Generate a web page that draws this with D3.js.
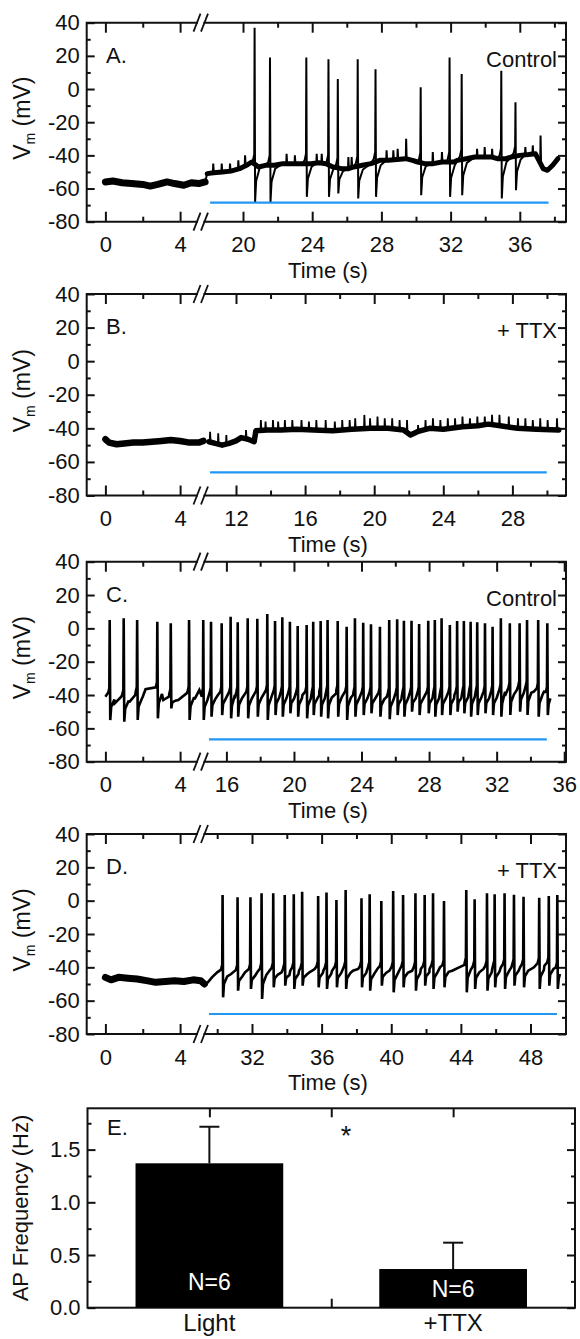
<!DOCTYPE html>
<html><head><meta charset="utf-8">
<script src="https://cdn.jsdelivr.net/npm/d3@7/dist/d3.min.js"></script>
<style>
body{margin:0;background:#fff;}
svg{color:#111;}
text{font-family:"Liberation Sans", Arial, Helvetica, sans-serif; fill:#111;}
</style></head><body>
<svg id="chart" width="580" height="1339"></svg>
<script>
// ---------------- DATA ----------------
const yTicks = [-80, -60, -40, -20, 0, 20, 40];
const yMinorTicks = [-70, -50, -30, -10, 10, 30];
const preTicks = [0, 4];
const preMinorTicks = [2];
const postTicksA = [20, 24, 28, 32, 36];
const postTicksB = [12, 16, 20, 24, 28];
const postTicksC = [16, 20, 24, 28, 32, 36];
const postTicksD = [32, 36, 40, 44, 48];

// Panel A (Control) : baseline [t, mV], spikes [t, peak, trough], small blips [t, peak]
const basePreA = [[0,-56],[0.4,-55.5],[0.9,-56.5],[1.4,-57],[2,-57.5],[2.4,-58.5],[2.8,-57.5],[3.3,-56],[3.7,-57],[4.2,-58],[4.6,-56.5],[5.0,-57],[5.34,-56]];
const basePostA = [[17.93,-51],[18.3,-50.5],[18.8,-50],[19.3,-49.5],[19.8,-48],[20.2,-46],[20.5,-44],[20.9,-47],[21.3,-46],[21.8,-46],[22.3,-45],[22.9,-45],[23.4,-45],[23.9,-45],[24.4,-44.5],[24.8,-45],[25.2,-47],[25.7,-48],[26.1,-48],[26.4,-47],[26.9,-46],[27.4,-45],[27.9,-43],[28.4,-43],[28.9,-42.5],[29.4,-42],[29.8,-43],[30.1,-44],[30.5,-45],[31.0,-45],[31.5,-44],[31.8,-44],[32.2,-44],[32.4,-43],[32.9,-42],[33.4,-41],[33.9,-41],[34.4,-41],[34.7,-42],[35.2,-42],[35.5,-41],[36.0,-40],[36.5,-39.5],[36.9,-39],[37.35,-48],[37.6,-49],[37.9,-46],[38.2,-42]];
const spikesA = [[20.67,37,-68],[21.56,19,-68],[23.66,19,-65],[24.94,18,-65],[25.48,6,-63],[26.63,18,-66],[27.66,12,-65],[30.27,1,-64],[31.94,19,-65],[32.64,9,-64],[34.93,11,-66],[35.75,-8,-61]];
const blipsA = [[18.28,-45],[18.77,-45],[19.25,-45],[19.73,-43],[20.12,-40],[22.52,-39],[23.0,-40],[24.26,-39],[24.55,-39],[26.09,-41],[26.28,-41],[28.3,-37],[28.69,-37],[28.94,-36],[29.43,-30],[30.97,-38],[31.5,-38],[33.53,-36],[33.97,-35],[34.4,-36],[36.32,-35],[36.75,-34],[37.2,-28]];
const stimA = [18.1, 37.66, -68.5];

// Panel B (+TTX)
const basePreB = [[0,-46.5],[0.2,-48.5],[0.6,-49.5],[1.0,-49],[1.5,-48.5],[2.0,-48.5],[2.5,-48],[3.0,-47.5],[3.5,-47],[4.0,-47.5],[4.5,-48.5],[5.0,-48.5],[5.25,-47.5]];
const basePostB = [[10.44,-48],[10.8,-49],[11.2,-50],[11.6,-49],[12.0,-47.5],[12.3,-45.5],[12.7,-46.5],[13.05,-48],[13.15,-41.5],[13.8,-41],[14.6,-41],[15.5,-40.5],[16.5,-41],[17.6,-41.5],[18.7,-40.5],[19.8,-40],[20.8,-40],[21.7,-41],[22.1,-44],[22.5,-42],[23.2,-40],[24.0,-40.5],[25.1,-39],[26.0,-38.5],[26.6,-37.5],[27.3,-38.5],[28.3,-40],[29.4,-40.5],[30.68,-41]];
const spikesB = [];
const blipsB = [[10.5,-42],[10.97,-43],[11.44,-44],[12.58,-41],[13.44,-35],[13.71,-36],[14.14,-35],[14.44,-36],[14.83,-35],[15.26,-35],[15.79,-35],[16.22,-36],[16.65,-35],[17.19,-35],[17.72,-36],[18.15,-35],[18.58,-35],[18.9,-34],[19.43,-32],[19.76,-34],[20.19,-33],[20.61,-34],[21.04,-34],[21.47,-35],[21.9,-35],[22.54,-38],[22.97,-35],[23.4,-34],[23.83,-35],[24.26,-34],[24.68,-34],[25.11,-33],[25.54,-34],[25.97,-33],[26.4,-33],[26.82,-32],[27.25,-32],[27.79,-33],[28.32,-34],[28.75,-34],[29.18,-35],[29.61,-34],[30.04,-35],[30.58,-34]];
const stimB = [10.5, 29.99, -66.2];

// Panel C (Control)
const basePreC = [[0,-41],[0.12,-39],[0.5,-45],[0.85,-41],[1.3,-44],[1.6,-40],[2.0,-41],[2.15,-36.5],[2.7,-36],[3.1,-43],[3.4,-41],[3.9,-43],[4.35,-39],[4.8,-42],[5.03,-37]];
const spikesPreC = [[0.23,5,-55],[0.98,6,-56],[1.70,5,-55],[2.78,4,-54],[3.50,3,-48],[4.48,5,-55]];
const basePostC = [[14.55,-41],[15.5,-40],[16.5,-40],[17.5,-40],[18.5,-39],[19.5,-40],[20.5,-40],[21.5,-40],[22.5,-39],[23.5,-40],[24.5,-40],[25.5,-41],[26.5,-40],[27.5,-40],[28.5,-40],[29.5,-40],[30.5,-39],[31.5,-40],[32.5,-38],[33.2,-37],[33.6,-36],[34.2,-38],[34.8,-38],[35.18,-42]];
const spikesC = [[14.63,5,-55],[15.09,4,-53],[15.72,3,-52],[16.25,7,-54],[16.67,3.6,-53],[17.26,6,-54],[17.83,5.8,-53],[18.42,8.6,-55],[18.88,4.4,-52],[19.31,6.6,-53],[19.76,4,-51],[20.22,1.4,-53],[20.75,2,-54],[21.14,4,-52],[21.58,4.4,-53],[21.99,5,-54],[22.59,4.4,-53],[23.12,1,-55],[23.61,6,-53],[24.10,3.4,-52],[24.56,2.4,-51],[25.09,1,-53],[25.64,5,-54.5],[26.11,5.4,-52],[26.51,4.6,-53],[26.96,4.6,-50],[27.41,2.6,-52],[27.95,4.6,-51],[28.34,5,-53],[28.74,6,-52],[29.23,2,-52],[29.66,4.4,-50],[30.06,4.4,-51],[30.46,4,-53],[30.85,3.6,-52],[31.31,3,-51],[31.76,1,-52],[32.25,6,-53],[32.78,3,-52],[33.36,3,-50],[33.8,5,-52],[34.46,5,-53],[35.0,3,-52]];
const stimC = [14.97, 34.97, -66.6];

// Panel D (+TTX)
const basePreD = [[0,-46],[0.3,-47.5],[0.7,-46],[1.2,-46.5],[1.7,-47],[2.2,-48],[2.7,-49],[3.2,-48.5],[3.7,-48],[4.2,-48.5],[4.7,-47.5],[5.1,-48],[5.3,-50]];
const basePostD = [[29.46,-49],[29.7,-46],[30.0,-43],[30.8,-44],[31.6,-43],[32.3,-43],[33.0,-42],[33.7,-43],[34.2,-42],[34.7,-42],[35.3,-43],[35.6,-41],[36.1,-42],[36.6,-42],[37.1,-41],[37.8,-42],[38.1,-41],[38.6,-42],[39.2,-41],[39.9,-42],[40.5,-41],[41.2,-42],[41.7,-41],[42.2,-41],[42.8,-40],[43.5,-42],[43.9,-40],[44.2,-38.5],[44.6,-41],[45.3,-41],[45.8,-41],[46.3,-40],[46.9,-40],[47.4,-40],[48.2,-40],[48.8,-39],[49.3,-39],[49.69,-44]];
const spikesD = [[30.31,3.4,-58],[31.17,2,-54],[31.91,2,-53],[32.55,4.4,-59],[33.22,4.4,-52],[33.88,3.4,-51],[34.40,3.8,-53],[34.88,5.4,-51],[35.80,2.8,-52],[36.28,4.9,-53],[36.85,0.4,-52],[37.38,6.4,-53],[38.29,1.4,-52],[38.76,3.8,-54],[39.43,-0.2,-51],[40.11,5.8,-55],[40.68,3.4,-52],[41.39,4.4,-54],[41.92,3.4,-51],[42.40,4.4,-53],[43.03,-0.2,-52],[44.31,6.4,-55],[44.79,0.8,-53],[45.50,4.4,-54],[45.94,3.8,-52],[46.51,4.4,-53],[47.05,3.5,-51],[47.6,2.4,-52],[48.5,1.8,-53],[49.05,2.8,-51],[49.54,3.4,-53]];
const stimD = [29.53, 49.52, -68];

// Panel E (bar chart)
const barCategories = ["Light", "+TTX"];
const barMeans = [1.37, 0.367];
const barErrors = [0.347, 0.25];
const barN = ["N=6", "N=6"];
const eTicks = [0, 0.5, 1.0, 1.5];
const eMinorTicks = [0.25, 0.75, 1.25, 1.75];

// ---------------- DRAWING ----------------
const svg = d3.select("#chart");
const INK = "#111";
const BLUE = "#2196f3";
const TICK_FS = 22, TITLE_FS = 22, TAG_FS = 22;
const L = 86.7, R = 566, BRK1 = 197, BRK2 = 204.5;
const xPre = d3.scaleLinear().domain([0, 4]).range([105.4, 180.1]);
const line = d3.line();

function traceSegment(base, spikes, blips, tpl) {
  const bis = d3.bisector(d => d[0]).left;
  const bAt = t => {
    const i = bis(base, t);
    if (i <= 0) return base[0][1];
    if (i >= base.length) return base[base.length - 1][1];
    const a = base[i - 1], b = base[i];
    return a[1] + (b[1] - a[1]) * (t - a[0]) / (b[0] - a[0]);
  };
  const t0 = base[0][0], t1 = base[base.length - 1][0];
  let pts = base.filter((p, i) => i === 0 || i === base.length - 1 ||
    (!spikes.some(s => p[0] > s[0] - tpl.pre && p[0] < s[0] + tpl.rec) &&
     !blips.some(b => Math.abs(p[0] - b[0]) < 0.05)));
  const extra = [];
  spikes.forEach(([t, pk, tr]) => {
    const b = bAt(t);
    extra.push([t - tpl.pre, b + tpl.th1], [t - 0.02, b + tpl.th2], [t, pk], [t + 0.03, tr],
      [t + tpl.mid, tr + tpl.frac * (b - tr)], [t + tpl.rec, b + tpl.off]);
  });
  blips.forEach(([t, pk]) => {
    const b = bAt(t);
    extra.push([t - 0.02, b], [t, pk], [t + 0.03, b]);
  });
  pts = pts.concat(extra.filter(p => p[0] >= t0 && p[0] <= t1));
  pts.sort((a, b) => a[0] - b[0]);
  return pts;
}

const panels = [
  {letter: "A.", cond: "Control", top: 22.7, bottom: 221.7, postDom: [20, 36], postPx: [243, 519.8], ticks: postTicksA,
   basePre: basePreA, spikesPre: [], basePost: basePostA, spikesPost: spikesA, blips: blipsA, stim: stimA,
   bandPre: 7, bandPost: 5, stroke: 2, tpl: {pre: 0.1, th1: 2, th2: 6, mid: 0.09, frac: 0.55, rec: 0.3, off: -2}},
  {letter: "B.", cond: "+ TTX", top: 294, bottom: 495.5, postDom: [12, 28], postPx: [236, 512.4], ticks: postTicksB,
   basePre: basePreB, spikesPre: [], basePost: basePostB, spikesPost: spikesB, blips: blipsB, stim: stimB,
   bandPre: 6.5, bandPost: 5.5, stroke: 1.8, tpl: {pre: 0.1, th1: 2, th2: 6, mid: 0.09, frac: 0.55, rec: 0.3, off: -2}},
  {letter: "C.", cond: "Control", top: 561.7, bottom: 761.7, postDom: [16, 36], postPx: [226.4, 564.2], ticks: postTicksC,
   basePre: basePreC, spikesPre: spikesPreC, basePost: basePostC, spikesPost: spikesC, blips: [], stim: stimC,
   bandPre: 0, bandPost: 0, stroke: 2.6, tpl: {pre: 0.08, th1: 2, th2: 5, mid: 0.08, frac: 0.55, rec: 0.25, off: -2}},
  {letter: "D.", cond: "+ TTX", top: 834, bottom: 1034, postDom: [32, 48], postPx: [252, 530.5], ticks: postTicksD,
   basePre: basePreD, spikesPre: [], basePost: basePostD, spikesPost: spikesD, blips: [], stim: stimD,
   bandPre: 7, bandPost: 0, stroke: 2.6, tpl: {pre: 0.09, th1: 2, th2: 5, mid: 0.08, frac: 0.55, rec: 0.27, off: -2}}
];

function styleAxis(a, w) {
  a.select(".domain").remove();
  a.selectAll(".tick line").attr("stroke", INK).attr("stroke-width", w || 2);
  a.attr("font-family", null).attr("font-size", null);
  a.selectAll(".tick text").attr("fill", INK).style("font-size", TICK_FS + "px");
  return a;
}

panels.forEach(p => {
  const g = svg.append("g");
  const y = d3.scaleLinear().domain([-80, 40]).range([p.bottom, p.top]);
  const xPost = d3.scaleLinear().domain(p.postDom).range(p.postPx);
  const step = p.ticks[1] - p.ticks[0];
  const postMinor = [];
  for (let t = p.ticks[0] - step / 2; t < p.ticks[p.ticks.length - 1] + step; t += step) {
    const px = xPost(t);
    if (px > BRK2 + 8 && px < R - 4) postMinor.push(t);
  }
  const fmt = d => String(d);

  // y axes
  styleAxis(g.append("g").attr("transform", `translate(${L},0)`)
    .call(d3.axisLeft(y).tickValues(yTicks).tickSize(-8).tickPadding(7).tickFormat(fmt)));
  styleAxis(g.append("g").attr("transform", `translate(${L},0)`)
    .call(d3.axisLeft(y).tickValues(yMinorTicks).tickSize(-4).tickFormat("")));
  styleAxis(g.append("g").attr("transform", `translate(${R},0)`)
    .call(d3.axisRight(y).tickValues(yTicks).tickSize(-8).tickFormat("")));
  styleAxis(g.append("g").attr("transform", `translate(${R},0)`)
    .call(d3.axisRight(y).tickValues(yMinorTicks).tickSize(-4).tickFormat("")));
  // x axes (pre + post, bottom with labels, top without)
  [[xPre, preTicks, preMinorTicks], [xPost, p.ticks, postMinor]].forEach(([sc, maj, mnr]) => {
    styleAxis(g.append("g").attr("transform", `translate(0,${p.bottom})`)
      .call(d3.axisBottom(sc).tickValues(maj).tickSize(-10).tickPadding(15).tickFormat(fmt)));
    styleAxis(g.append("g").attr("transform", `translate(0,${p.bottom})`)
      .call(d3.axisBottom(sc).tickValues(mnr).tickSize(-5).tickFormat("")));
    styleAxis(g.append("g").attr("transform", `translate(0,${p.top})`)
      .call(d3.axisTop(sc).tickValues(maj).tickSize(-10).tickFormat("")));
    styleAxis(g.append("g").attr("transform", `translate(0,${p.top})`)
      .call(d3.axisTop(sc).tickValues(mnr).tickSize(-5).tickFormat("")));
  });

  // frame with axis break
  g.append("path")
    .attr("d", `M${L},${p.top}V${p.bottom}M${R},${p.top}V${p.bottom}` +
      `M${L},${p.top}H${BRK1}M${BRK2},${p.top}H${R}M${L},${p.bottom}H${BRK1}M${BRK2},${p.bottom}H${R}`)
    .attr("fill", "none").attr("stroke", INK).attr("stroke-width", 2).attr("stroke-linecap", "square");
  [p.top, p.bottom].forEach(yy => [BRK1, BRK2].forEach(cx => {
    g.append("line").attr("x1", cx - 3.5).attr("y1", yy + 9).attr("x2", cx + 3.5).attr("y2", yy - 9)
      .attr("stroke", INK).attr("stroke-width", 1.8);
  }));

  // stimulus (light) bar
  g.append("line")
    .attr("x1", xPost(p.stim[0])).attr("x2", xPost(p.stim[1]))
    .attr("y1", y(p.stim[2])).attr("y2", y(p.stim[2]))
    .attr("stroke", BLUE).attr("stroke-width", 2.2);

  // noise bands
  if (p.bandPre) g.append("path").attr("d", line(p.basePre.map(d => [xPre(d[0]), y(d[1])])))
    .attr("fill", "none").attr("stroke", "#000").attr("stroke-width", p.bandPre).attr("stroke-linejoin", "round").attr("stroke-linecap", "round");
  if (p.bandPost) g.append("path").attr("d", line(p.basePost.map(d => [xPost(d[0]), y(d[1])])))
    .attr("fill", "none").attr("stroke", "#000").attr("stroke-width", p.bandPost).attr("stroke-linejoin", "round").attr("stroke-linecap", "round");

  // membrane potential trace
  const prePts = traceSegment(p.basePre, p.spikesPre, [], p.tpl).map(d => [xPre(d[0]), y(d[1])]);
  const postPts = traceSegment(p.basePost, p.spikesPost, p.blips, p.tpl).map(d => [xPost(d[0]), y(d[1])]);
  g.append("path").attr("d", line(prePts.concat(postPts)))
    .attr("fill", "none").attr("stroke", "#000").attr("stroke-width", p.stroke).attr("stroke-linejoin", "miter").attr("stroke-miterlimit", 3);

  // texts
  g.append("text").attr("x", 106).attr("y", p.top + 40).attr("font-size", TAG_FS).text(p.letter);
  g.append("text").attr("x", 557).attr("y", p.top + 44).attr("font-size", TAG_FS).attr("text-anchor", "end").text(p.cond);
  g.append("text").attr("x", 328).attr("y", p.bottom + 56).attr("font-size", TITLE_FS).attr("text-anchor", "middle").text("Time (s)");
  const yt = g.append("text").attr("transform", `translate(30,${(p.top + p.bottom) / 2 - 4}) rotate(-90)`)
    .attr("font-size", 23).attr("text-anchor", "middle");
  yt.append("tspan").text("V");
  yt.append("tspan").attr("font-size", 14).attr("dy", 5).text("m");
  yt.append("tspan").attr("dy", -5).text(" (mV)");
});

// ---------------- Panel E ----------------
{
  const top = 1108.3, bottom = 1307.7, EL = 87.5, ER = 575;
  const g = svg.append("g");
  const x = d3.scaleLinear().domain([0.5, 2.5]).range([EL, ER]);
  const y = d3.scaleLinear().domain([0, 1.892]).range([bottom, top]);
  const f1 = d3.format(".1f");
  styleAxis(g.append("g").attr("transform", `translate(${EL},0)`)
    .call(d3.axisLeft(y).tickValues(eTicks).tickSize(-8).tickPadding(7).tickFormat(f1)));
  styleAxis(g.append("g").attr("transform", `translate(${EL},0)`)
    .call(d3.axisLeft(y).tickValues(eMinorTicks).tickSize(-4).tickFormat("")));
  styleAxis(g.append("g").attr("transform", `translate(${ER},0)`)
    .call(d3.axisRight(y).tickValues(eTicks).tickSize(-8).tickFormat("")));
  styleAxis(g.append("g").attr("transform", `translate(${ER},0)`)
    .call(d3.axisRight(y).tickValues(eMinorTicks).tickSize(-4).tickFormat("")));
  styleAxis(g.append("g").attr("transform", `translate(0,${top})`)
    .call(d3.axisTop(x).tickValues([1, 1.5, 2]).tickSize(-9).tickFormat("")));
  styleAxis(g.append("g").attr("transform", `translate(0,${bottom})`)
    .call(d3.axisBottom(x).tickValues([1, 1.5, 2]).tickSize(-9).tickFormat("")));
  g.append("rect").attr("x", EL).attr("y", top).attr("width", ER - EL).attr("height", bottom - top)
    .attr("fill", "none").attr("stroke", INK).attr("stroke-width", 2);

  const bw = x(1.303) - x(0.697);
  barMeans.forEach((m, i) => {
    const cx = x(i + 1);
    g.append("line").attr("x1", cx).attr("x2", cx).attr("y1", y(m)).attr("y2", y(m + barErrors[i]))
      .attr("stroke", INK).attr("stroke-width", 2);
    g.append("line").attr("x1", cx - 10).attr("x2", cx + 10).attr("y1", y(m + barErrors[i])).attr("y2", y(m + barErrors[i]))
      .attr("stroke", INK).attr("stroke-width", 2);
    g.append("rect").attr("x", cx - bw / 2).attr("y", y(m)).attr("width", bw).attr("height", y(0) - y(m))
      .attr("fill", "#000");
    g.append("text").attr("x", cx).attr("y", i === 0 ? 1290 : 1297).attr("text-anchor", "middle")
      .attr("font-size", 23).style("fill", "#fff").text(barN[i]);
    g.append("text").attr("x", cx).attr("y", 1331).attr("text-anchor", "middle")
      .attr("font-size", 24).text(barCategories[i]);
  });
  g.append("text").attr("x", 107).attr("y", 1135).attr("font-size", TAG_FS).text("E.");
  g.append("text").attr("x", 346).attr("y", 1145).attr("font-size", 27).attr("text-anchor", "middle").text("*");
  g.append("text").attr("transform", `translate(28,${(top + bottom) / 2}) rotate(-90)`)
    .attr("font-size", 22).attr("text-anchor", "middle").text("AP Frequency (Hz)");
}
</script>
</body></html>
